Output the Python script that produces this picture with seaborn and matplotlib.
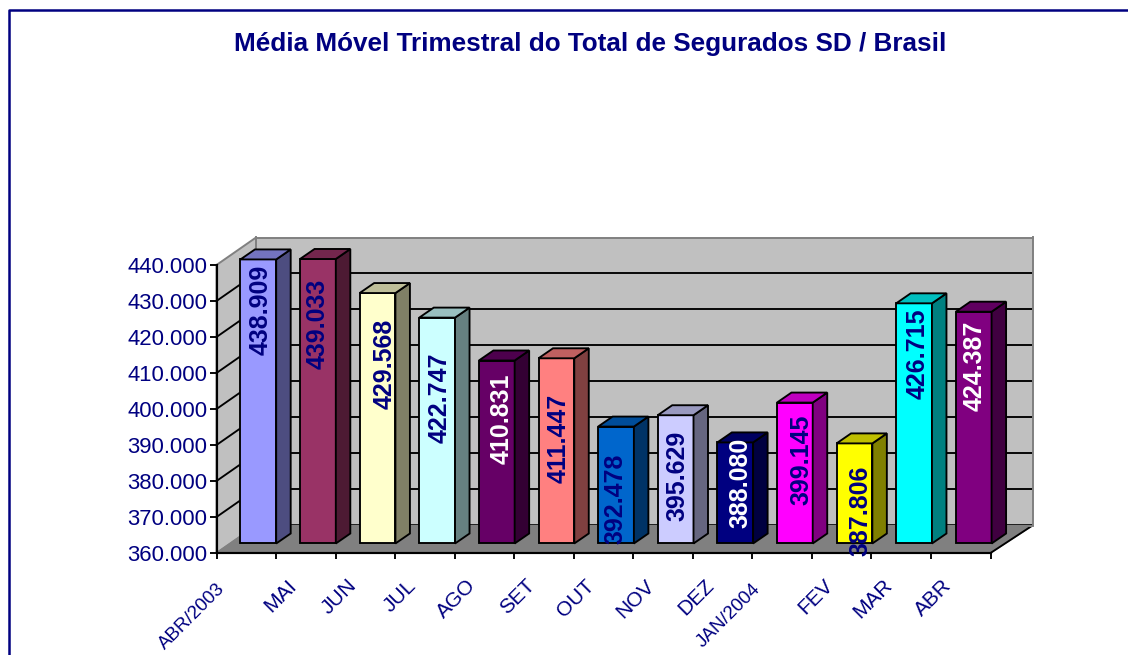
import matplotlib
matplotlib.use("Agg")
import matplotlib.pyplot as plt
import seaborn as sns
import pandas as pd
from matplotlib.patches import Polygon
from matplotlib.lines import Line2D
from matplotlib.transforms import IdentityTransform, ScaledTranslation
from matplotlib.ticker import FuncFormatter, MultipleLocator
from matplotlib.colors import to_rgb

TITLE = "Média Móvel Trimestral do Total de Segurados SD / Brasil"
MONTHS = ["ABR/2003", "MAI", "JUN", "JUL", "AGO", "SET", "OUT", "NOV", "DEZ",
          "JAN/2004", "FEV", "MAR", "ABR"]
VALUES = [438909, 439033, 429568, 422747, 410831, 411447, 392478, 395629,
          388080, 399145, 387806, 426715, 424387]
COLORS = ["#9999FF", "#993366", "#FFFFCC", "#CCFFFF", "#660066", "#FF8080",
          "#0066CC", "#CCCCFF", "#000080", "#FF00FF", "#FFFF00", "#00FFFF", "#800080"]
LABEL_COLORS = ["#000080", "#000080", "#000080", "#000080", "#FFFFFF", "#000080",
                "#000080", "#000080", "#FFFFFF", "#000080", "#000080", "#000080", "#FFFFFF"]
LABEL_CENTERS = [424580, 420690, 409580, 400140, 394300, 388750, 372080, 378470,
                 376530, 382920, 368750, 412360, 409030]
LABEL_SHIFT_PX = [2, 0, 7, 2, 5, 2, -1, 2, 5, 7, 6, 4, 1]
YMIN, YMAX, YSTEP = 360000, 440000, 10000

NAVY = "#000080"
W, H = 1128, 655
DEPTH_BAR = (14.5, 10)
LW = 1.35

sns.set_theme(style="white")
plt.rcParams["font.family"] = ["Liberation Sans", "DejaVu Sans"]

fig = plt.figure(figsize=(W / 100, H / 100), dpi=100, facecolor="white")


def box(x0, x1, ytop, ybot):
    return [x0 / W, (H - ybot) / H, (x1 - x0) / W, (ybot - ytop) / H]


ax_back = fig.add_axes(box(256, 1032.5, 237.5, 525.5), facecolor="#C0C0C0", zorder=1)
ax_front = fig.add_axes(box(216.5, 990.5, 265, 553), zorder=2)
ax_bars = fig.add_axes(box(228.5, 1003.5, 255.5, 543.5), zorder=3)
ax_front.patch.set_visible(False)
ax_bars.patch.set_visible(False)

# back wall
ax_back.set_ylim(YMIN, YMAX)
ax_back.set_xlim(0, 1)
ax_back.set_xticks([])
ax_back.yaxis.set_major_locator(MultipleLocator(YSTEP))
ax_back.tick_params(left=False, labelleft=False)
ax_back.grid(axis="y", color="black", lw=LW)
ax_back.set_axisbelow(True)
for s in ax_back.spines.values():
    s.set_color("#808080")
    s.set_linewidth(1.4)

# front plane: ticks and tick labels
ax_front.set_xlim(0, len(MONTHS))
ax_front.set_ylim(YMIN, YMAX)
ax_front.yaxis.set_major_locator(MultipleLocator(YSTEP))
ax_front.yaxis.set_major_formatter(FuncFormatter(lambda v, _: f"{int(v):,}".replace(",", ".")))
ax_front.tick_params(axis="y", left=True, length=5, width=LW, color="black",
                     labelsize=15.9, labelcolor=NAVY, pad=1.5)
ax_front.set_xticks(range(len(MONTHS) + 1))
ax_front.set_xticklabels([])
ax_front.tick_params(axis="x", which="major", bottom=True, length=4, width=LW, color="black")
ax_front.set_xticks([i + 0.5 for i in range(len(MONTHS))], minor=True)
ax_front.set_xticklabels(MONTHS, minor=True, rotation=45, ha="right", va="center",
                         rotation_mode="anchor", color=NAVY)
ax_front.tick_params(axis="x", which="minor", bottom=False, pad=0)
for lab, name in zip(ax_front.get_xticklabels(minor=True), MONTHS):
    long_label = "/" in name
    lab.set_fontsize(13.5 if long_label else 15)
    sx, sy = (-24, -28) if long_label else (-12, -24)
    lab.set_transform(lab.get_transform() + ScaledTranslation(sx / 100, sy / 100, fig.dpi_scale_trans))
ax_front.spines[["top", "right"]].set_visible(False)
for s in ("left", "bottom"):
    ax_front.spines[s].set_color("black")
    ax_front.spines[s].set_linewidth(LW + 0.2)
ax_front.spines["left"].set_zorder(5)


# side wall and floor, joining the front plane to the back wall
def pf(ax, x, y):
    return ax.transData.transform((x, y))


fig.canvas.draw()
n = len(MONTHS)
fl, fr = pf(ax_front, 0, YMIN), pf(ax_front, n, YMIN)
ftl = pf(ax_front, 0, YMAX)
bl, br = pf(ax_back, 0, YMIN), pf(ax_back, 1, YMIN)
btl = pf(ax_back, 0, YMAX)
ident = IdentityTransform()
ax_back.add_patch(Polygon([fl, ftl, btl, bl], closed=True, transform=ident, clip_on=False,
                          facecolor="#C0C0C0", edgecolor="#808080", lw=1.4))
ax_back.add_patch(Polygon([fl, fr, br, bl], closed=True, transform=ident, clip_on=False,
                          facecolor="#808080", edgecolor="#808080", lw=1))
for v in range(YMIN + YSTEP, YMAX, YSTEP):
    p, q = pf(ax_front, 0, v), pf(ax_back, 0, v)
    ax_back.add_line(Line2D([p[0], q[0]], [p[1], q[1]], transform=ident, color="black",
                            lw=LW, clip_on=False))
ax_back.add_line(Line2D([fr[0], br[0]], [fr[1], br[1]], transform=ident, color="black",
                        lw=LW, clip_on=False))

# bars
df = pd.DataFrame({"mes": MONTHS, "total": VALUES})
sns.barplot(data=df, x="mes", y="total", hue="mes", palette=COLORS, dodge=False, legend=False,
            width=0.6, ax=ax_bars, edgecolor="black", linewidth=LW, saturation=1, clip_on=False,
            zorder=3)
ax_bars.set_ylim(YMIN, YMAX)
ax_bars.set_xlim(-0.5, n - 0.5)
ax_bars.set_xlabel("")
ax_bars.set_ylabel("")
ax_bars.set_xticks([])
ax_bars.set_yticks([])
for s in ax_bars.spines.values():
    s.set_visible(False)

fig.canvas.draw()
dx, dy = DEPTH_BAR
patches = list(ax_bars.patches)
for patch, col, lab_y, lab_c, lab_dx, val in zip(patches, COLORS, LABEL_CENTERS, LABEL_COLORS,
                                                 LABEL_SHIFT_PX, VALUES):
    x, w = patch.get_x(), patch.get_width()
    patch.set_y(YMIN)
    patch.set_height(val - YMIN)
    a = pf(ax_bars, x + w, YMIN)
    b = pf(ax_bars, x + w, val)
    c = pf(ax_bars, x, val)
    rgb = to_rgb(col)
    side = [k * 0.5 for k in rgb]
    top = [k * 0.75 for k in rgb]
    ax_bars.add_patch(Polygon([a, b, (b[0] + dx, b[1] + dy), (a[0] + dx, a[1] + dy)], closed=True,
                              transform=ident, facecolor=side, edgecolor="black", lw=LW,
                              clip_on=False, zorder=3))
    ax_bars.add_patch(Polygon([c, b, (b[0] + dx, b[1] + dy), (c[0] + dx, c[1] + dy)], closed=True,
                              transform=ident, facecolor=top, edgecolor="black", lw=LW,
                              clip_on=False, zorder=3))
    ax_bars.text(x + w / 2, lab_y + 400, f"{val:,}".replace(",", "."), rotation=90, ha="center",
                 va="center", color=lab_c, fontsize=18, fontweight="bold", zorder=6, clip_on=False,
                 transform=ax_bars.transData + ScaledTranslation(lab_dx / 100, 0, fig.dpi_scale_trans))

# chart area border and title
fig.add_artist(Line2D([8.5 / W, 8.5 / W, 1], [0, (H - 9.5) / H, (H - 9.5) / H],
                      transform=fig.transFigure, color=NAVY, lw=1.8))
fig.text(590 / W, (H - 44.5) / H, TITLE, ha="center", va="center", color=NAVY,
         fontsize=18.85, fontweight="bold")

fig.savefig("out.png", dpi=100, facecolor="white")
